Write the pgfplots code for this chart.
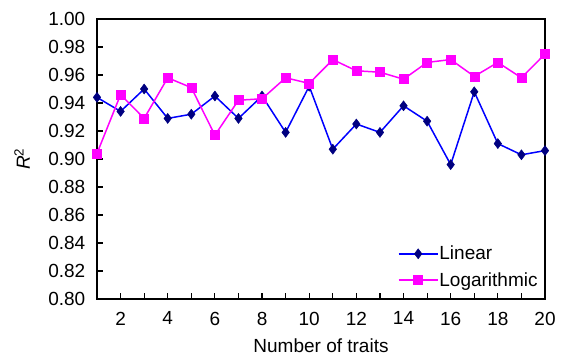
\documentclass[border=0pt]{standalone}
\usepackage{fontspec}
\setmainfont{Liberation Sans}
\usepackage{pgfplots}
\pgfplotsset{compat=1.18}
\definecolor{linblue}{RGB}{0,0,255}
\definecolor{linnavy}{RGB}{0,0,128}
\definecolor{logmag}{RGB}{255,0,255}
\begin{document}
\begin{tikzpicture}
\begin{axis}[
  scale only axis,
  width=448pt, height=280pt,
  xmin=1, xmax=20, ymin=0.8, ymax=1.0,
  xtick={2,4,...,20},
  minor xtick={1,3,...,19},
  ytick={0.80,0.82,...,1.001},
  xtick pos=bottom, ytick pos=left,
  tick align=inside,
  major tick length=6pt, minor tick length=6pt,
  tick style={black, line width=1.2pt},
  axis line style={line width=1.5pt},
  every axis/.append style={line width=1.5pt},
  /pgf/number format/assume math mode=true,
  yticklabel style={/pgf/number format/fixed, /pgf/number format/precision=2, /pgf/number format/fixed zerofill, inner sep=0pt, xshift=-11pt},
  xticklabel style={inner sep=0pt, yshift=-12pt},
  ticklabel style={font=\fontsize{19}{22}\selectfont},
  label style={font=\fontsize{19}{22}\selectfont},
  xlabel={Number of traits},
  ylabel={\textit{R}\textsuperscript{2}},
  xlabel style={at={(rel axis cs:0.5,-0.168)}, anchor=center},
  ylabel style={at={(rel axis cs:-0.167,0.5)}, anchor=center},
  legend style={draw=none, fill=none, at={(0.67,0.195)}, anchor=north west,
    font=\fontsize{19}{22}\selectfont, row sep=9pt, inner sep=0pt,
    nodes={inner sep=1pt}},
  legend cell align=left,
  legend image code/.code={
    \draw[#1, mark repeat=2, mark phase=2] plot coordinates {(0pt,0pt) (19.5pt,0pt) (39pt,0pt)};
  },
  clip=false,
]
\addplot[color=linblue, line width=1.5pt, mark=diamond*, mark size=5pt,
  mark options={fill=linnavy, draw=linnavy, line width=0.5pt}]
coordinates {
(1,0.944)(2,0.934)(3,0.950)(4,0.929)(5,0.932)(6,0.945)(7,0.929)(8,0.945)(9,0.919)(10,0.952)
(11,0.907)(12,0.925)(13,0.919)(14,0.938)(15,0.927)(16,0.896)(17,0.948)(18,0.911)(19,0.903)(20,0.906)
};
\addlegendentry{Linear}
\addplot[color=logmag, line width=1.5pt, mark=square*, mark size=4.5pt,
  mark options={fill=logmag, draw=logmag, line width=0.5pt}]
coordinates {
(1,0.904)(2,0.946)(3,0.929)(4,0.958)(5,0.951)(6,0.917)(7,0.942)(8,0.943)(9,0.958)(10,0.954)
(11,0.971)(12,0.963)(13,0.962)(14,0.957)(15,0.969)(16,0.971)(17,0.959)(18,0.969)(19,0.958)(20,0.975)
};
\addlegendentry{Logarithmic}
\end{axis}
\useasboundingbox (-97pt,-57pt) rectangle (467pt,299pt);
\end{tikzpicture}
\end{document}
